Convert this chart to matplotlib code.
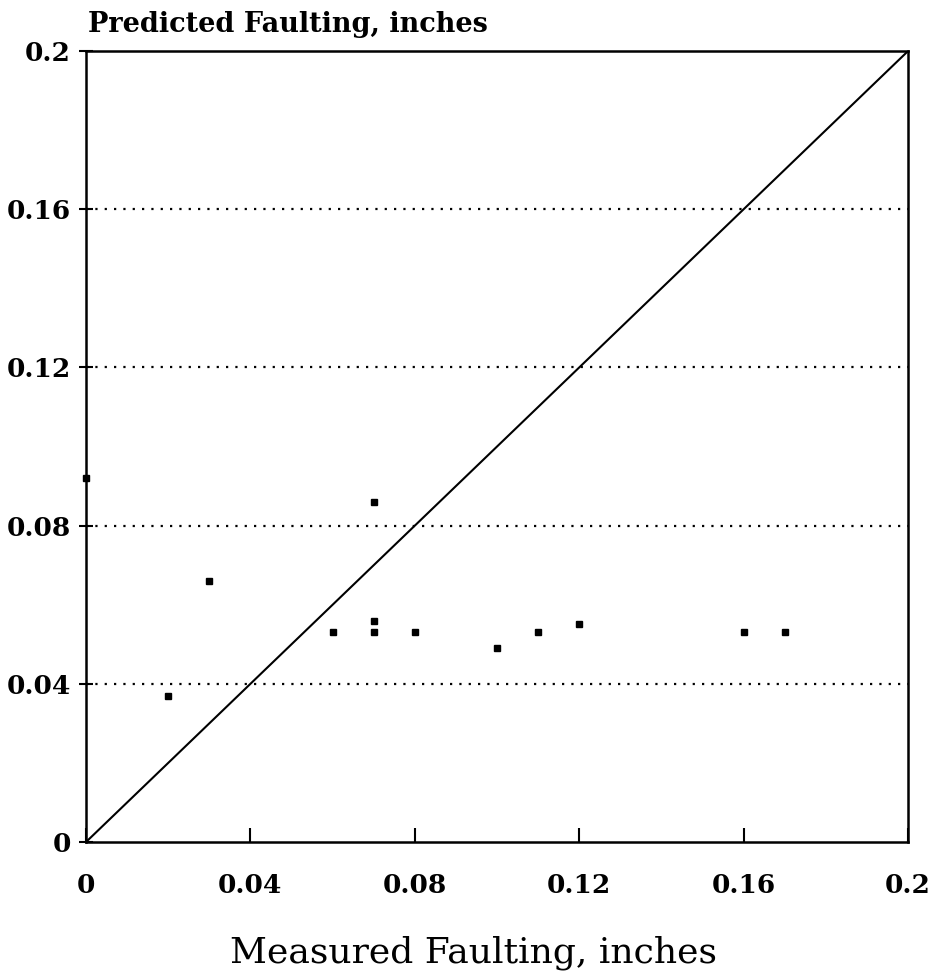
import matplotlib
matplotlib.use("Agg")
import matplotlib.pyplot as plt

# measured vs predicted faulting (inches)
measured = [0.0, 0.02, 0.03, 0.06, 0.07, 0.07, 0.07, 0.08, 0.10, 0.11, 0.12, 0.16, 0.17]
predicted = [0.092, 0.037, 0.066, 0.053, 0.053, 0.056, 0.086, 0.053, 0.049, 0.053, 0.055, 0.053, 0.053]

ticks = [0, 0.04, 0.08, 0.12, 0.16, 0.2]
tick_labels = ["0", "0.04", "0.08", "0.12", "0.16", "0.2"]
grid_levels = [0.04, 0.08, 0.12, 0.16]

fig = plt.figure(figsize=(9.36, 9.75), dpi=100)
ax = fig.add_axes([0.0919, 0.1364, 0.8783, 0.8113])

# line of equality
ax.plot([0, 0.2], [0, 0.2], color="black", lw=1.5, solid_capstyle="butt")

for g in grid_levels:
    ax.axhline(g, color="black", lw=1.6, linestyle=(0, (1, 3.2)))

ax.plot(measured, predicted, linestyle="none", marker="s", ms=3.8,
        color="black", clip_on=False)

ax.set_xlim(0, 0.2)
ax.set_ylim(0, 0.2)
ax.set_xticks(ticks)
ax.set_xticklabels(tick_labels)
ax.set_yticks(ticks)
ax.set_yticklabels(tick_labels)

for s in ax.spines.values():
    s.set_linewidth(1.8)

for lab in ax.get_xticklabels() + ax.get_yticklabels():
    lab.set_fontfamily("DejaVu Serif")
    lab.set_fontweight("bold")
    lab.set_fontsize(19)

ax.tick_params(axis="x", direction="in", length=10, width=1.5, pad=22)
ax.tick_params(axis="y", direction="inout", length=10, width=1.5, pad=6)

fig.text(0.094, 0.967, "Predicted Faulting, inches", fontsize=19.5,
         fontfamily="DejaVu Serif", fontweight="bold", va="baseline", ha="left")
fig.text(0.506, 0.013, "Measured Faulting, inches", fontsize=26,
         fontfamily="DejaVu Serif", va="baseline", ha="center")

fig.savefig("out.png", dpi=100)
